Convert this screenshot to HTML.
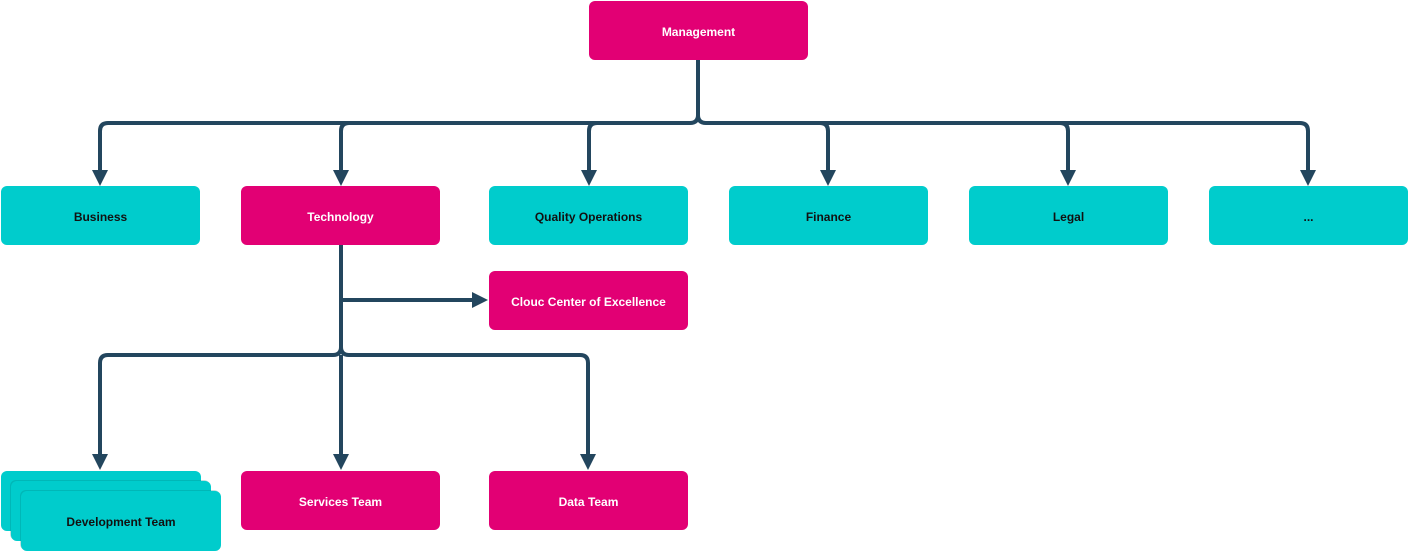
<!DOCTYPE html>
<html><head><style>
body{margin:0;width:1408px;height:550px;background:#fff;position:relative;overflow:hidden;font-family:"Liberation Sans",sans-serif}
.b{position:absolute;width:199px;height:59px;border-radius:6px;display:flex;align-items:center;justify-content:center;font-size:12px;font-weight:bold;box-sizing:border-box;padding-top:2px}
.p{background:#e20074;color:#fff}
.t{background:#00cccc;color:#111}
.s{box-shadow:-1px -1px 0 rgba(0,120,120,0.25)}
svg{position:absolute;left:0;top:0}
</style></head><body>
<svg width="1408" height="550">
<g fill="none" stroke="#23465e" stroke-width="4">
<path d="M698 60 V115 Q698 123 690 123 H108 Q100 123 100 131 V172"/>
<path d="M698 115 Q698 123 706 123 H1300 Q1308 123 1308 131 V172"/>
<path d="M349 123 Q341 123 341 131 V172"/>
<path d="M597 123 Q589 123 589 131 V172"/>
<path d="M820 123 Q828 123 828 131 V172"/>
<path d="M1060 123 Q1068 123 1068 131 V172"/>
<path d="M341 245 V347 Q341 355 333 355 H108 Q100 355 100 363 V456"/>
<path d="M341 347 Q341 355 349 355 H580 Q588 355 588 363 V456"/>
<path d="M341 355 V456"/>
<path d="M341 300 H474"/>
</g>
<g fill="#23465e">
<path d="M92 170 L108 170 L100 186 Z"/>
<path d="M333 170 L349 170 L341 186 Z"/>
<path d="M581 170 L597 170 L589 186 Z"/>
<path d="M820 170 L836 170 L828 186 Z"/>
<path d="M1060 170 L1076 170 L1068 186 Z"/>
<path d="M1300 170 L1316 170 L1308 186 Z"/>
<path d="M92 454 L108 454 L100 470 Z"/>
<path d="M333 454 L349 454 L341 470 Z"/>
<path d="M580 454 L596 454 L588 470 Z"/>
<path d="M472 292 L472 308 L488 300 Z"/>
</g>
</svg>
<div class="b p" style="left:589px;top:1px;width:219px">Management</div>
<div class="b t" style="left:1px;top:186px">Business</div>
<div class="b p" style="left:241px;top:186px">Technology</div>
<div class="b t" style="left:489px;top:186px">Quality Operations</div>
<div class="b t" style="left:729px;top:186px">Finance</div>
<div class="b t" style="left:969px;top:186px">Legal</div>
<div class="b t" style="left:1209px;top:186px">...</div>
<div class="b p" style="left:489px;top:271px">Clouc Center of Excellence</div>
<div class="b t" style="left:1px;top:471px;width:200px;height:60px"></div>
<div class="b t s" style="left:11px;top:481px;width:200px;height:60px"></div>
<div class="b t s" style="left:21px;top:491px;width:200px;height:60px">Development Team</div>
<div class="b p" style="left:241px;top:471px">Services Team</div>
<div class="b p" style="left:489px;top:471px">Data Team</div>
</body></html>
